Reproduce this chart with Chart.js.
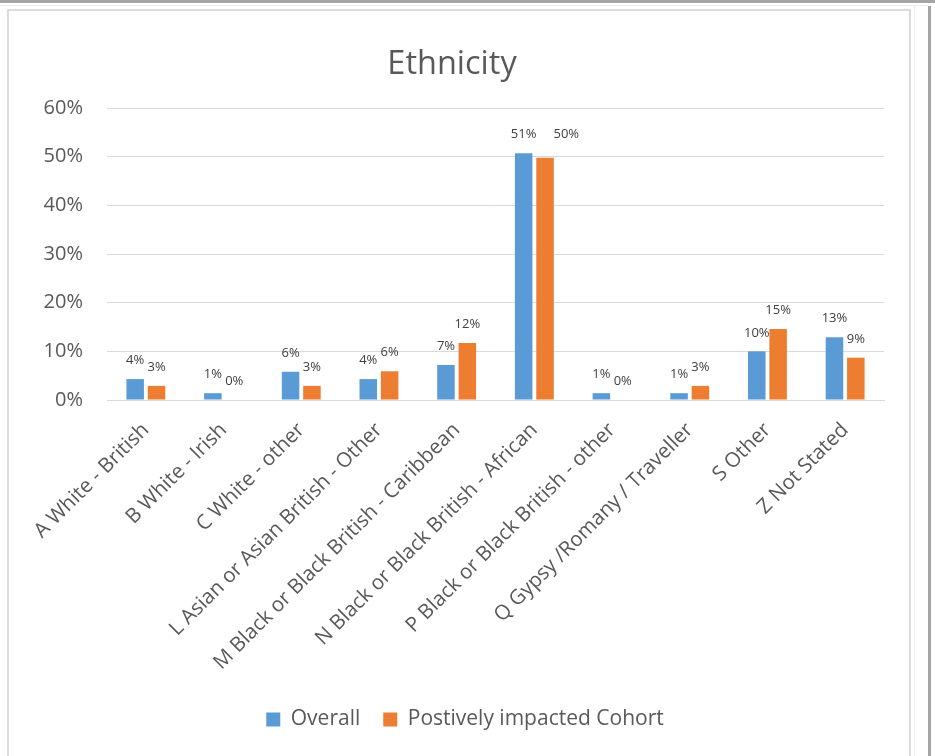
<!DOCTYPE html>
<html>
<head>
<meta charset="utf-8">
<script src="https://cdn.jsdelivr.net/npm/chart.js@4/dist/chart.umd.min.js"></script>
<style>
  html, body { margin: 0; padding: 0; background: #ffffff; }
  #wrap { position: relative; width: 935px; height: 756px; overflow: hidden; background: #ffffff; }
  .topbar { position: absolute; left: 0; top: 0; width: 935px; height: 3px; background: #a6a6a6; }
  .topline { position: absolute; left: 0; top: 5px; width: 928px; height: 1px; background: #ececec; }
  .box { position: absolute; left: 7px; top: 9px; width: 904px; height: 800px; border: 2px solid #dcdcdc; box-sizing: border-box; }
  .sideline { position: absolute; left: 914px; top: 6px; width: 1px; height: 760px; background: #efefef; }
  .sidebar { position: absolute; left: 928px; top: 6px; width: 3px; height: 760px; background: #a6a6a6; }
  canvas { position: absolute; left: 0; top: 0; }
</style>
</head>
<body>
<div id="wrap">
  <div class="topbar"></div>
  <div class="topline"></div>
  <div class="box"></div>
  <div class="sideline"></div>
  <div class="sidebar"></div>
  <canvas id="chart" width="935" height="756"></canvas>
</div>
<script>
// Ethnic groups shown along the category axis
const categories = [
  'A White - British',
  'B White - Irish',
  'C White - other',
  'L Asian or Asian British - Other',
  'M Black or Black British - Caribbean',
  'N Black or Black British - African',
  'P Black or Black British - other',
  'Q Gypsy /Romany / Traveller',
  'S Other',
  'Z Not Stated'
];

// Share of each group (fractions of 1)
const overall = [0.043, 0.014, 0.058, 0.043, 0.072, 0.507, 0.014, 0.014, 0.100, 0.129];
const cohort  = [0.029, 0.000, 0.029, 0.059, 0.117, 0.498, 0.000, 0.029, 0.146, 0.087];

const seriesNames = ['Overall', 'Postively impacted Cohort'];
const yTicks = [0, 0.1, 0.2, 0.3, 0.4, 0.5, 0.6];

const FONT = '"Open Sans", "Liberation Sans", sans-serif';
const pct = v => Math.round(v * 100) + '%';

// Percentage labels above every bar; a label that would collide with its
// neighbour on the left (at a similar height) is moved beside it.
const valueLabels = {
  id: 'valueLabels',
  afterDatasetsDraw(chart) {
    const ctx = chart.ctx;
    ctx.save();
    ctx.font = '13px ' + FONT;
    ctx.fillStyle = '#404040';
    ctx.textAlign = 'center';
    ctx.textBaseline = 'bottom';
    chart.data.labels.forEach((_, j) => {
      let prev = null;
      chart.data.datasets.forEach((ds, i) => {
        const bar = chart.getDatasetMeta(i).data[j];
        const text = pct(ds.data[j]);
        const w = ctx.measureText(text).width;
        let x = bar.x;
        let y = bar.y - 12;
        if (prev && Math.abs(prev.y - y) < 14 && x - w / 2 < prev.right + 2) {
          x = prev.right + 17 + w / 2;
          y = Math.min(y, prev.y);
        }
        ctx.fillText(text, x, y);
        prev = { right: x + w / 2, y };
      });
    });
    ctx.restore();
  }
};

// Nudge the legend row a little to the right of the chart's centre
const legendShift = {
  id: 'legendShift',
  afterLayout(chart) {
    const lg = chart.legend;
    if (lg) { lg.left += 13; lg.right += 13; }
  }
};

new Chart(document.getElementById('chart'), {
  type: 'bar',
  data: {
    labels: categories,
    datasets: [
      { label: seriesNames[0], data: overall, backgroundColor: '#5B9BD5', borderWidth: 0 },
      { label: seriesNames[1], data: cohort,  backgroundColor: '#ED7D31', borderWidth: 0 }
    ]
  },
  options: {
    responsive: false,
    animation: false,
    devicePixelRatio: 1,
    layout: { padding: { top: 10, left: 20, right: 51, bottom: 16 } },
    datasets: { bar: { categoryPercentage: 0.55, barPercentage: 0.82 } },
    plugins: {
      title: {
        display: true,
        text: 'Ethnicity',
        color: '#595959',
        font: { family: FONT, size: 32.5, weight: 'normal' },
        padding: { top: 35.5, bottom: 23.5 }
      },
      legend: {
        position: 'bottom',
        labels: {
          color: '#595959',
          font: { family: FONT, size: 21 },
          boxWidth: 14,
          boxHeight: 14,
          padding: 23
        }
      },
      tooltip: { enabled: false }
    },
    scales: {
      x: {
        grid: { display: false, drawTicks: false },
        border: { display: true, color: '#d9d9d9', width: 1 },
        ticks: {
          color: '#595959',
          font: { family: FONT, size: 20.5 },
          minRotation: 45,
          maxRotation: 45,
          autoSkip: false,
          padding: 18
        },
        afterFit(scale) { scale.height = 286; }
      },
      y: {
        min: 0,
        max: 0.6,
        afterBuildTicks(scale) { scale.ticks = yTicks.map(v => ({ value: v })); },
        grid: { color: '#d9d9d9', lineWidth: 1, drawTicks: false },
        border: { display: false },
        ticks: {
          color: '#595959',
          font: { family: FONT, size: 20 },
          padding: 24,
          callback: v => pct(v)
        },
        afterFit(scale) { scale.width = 87; }
      }
    }
  },
  plugins: [valueLabels, legendShift]
});
</script>
</body>
</html>
